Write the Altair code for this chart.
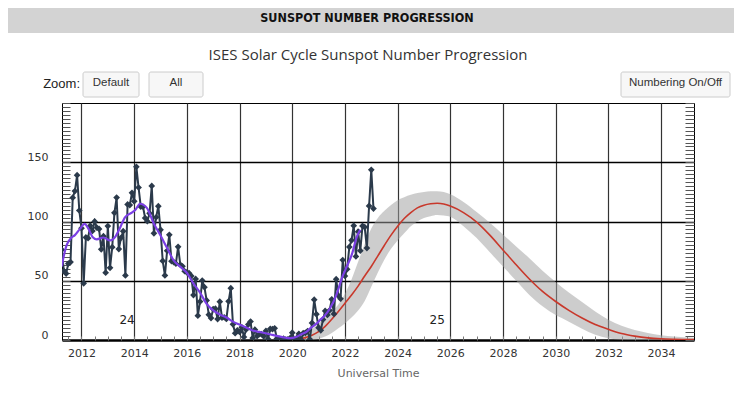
import altair as alt
import pandas as pd

# ---------------- data ----------------
# observed monthly sunspot numbers, April 2011 .. February 2023
obs_2011 = [76.1, 58.2, 56.1, 64.5, 65.8, 120.1, 125.7, 139.1, 109.3]  # Apr-Dec
obs_2012 = [94.4, 47.8, 86.6, 85.9, 96.5, 92.0, 100.1, 94.8, 93.7, 76.5, 87.6, 56.8]
obs_2013 = [96.1, 60.9, 78.3, 107.3, 120.2, 76.7, 86.2, 91.8, 54.5, 114.4, 113.9, 124.2]
obs_2014 = [117.0, 146.1, 128.7, 112.5, 112.5, 102.9, 100.2, 106.9, 130.0, 90.0, 103.6, 112.9]
obs_2015 = [93.0, 66.7, 54.5, 75.3, 88.8, 66.5, 65.8, 64.4, 78.6, 63.6, 62.2, 58.0]
obs_2016 = [57.0, 56.4, 54.1, 37.9, 51.5, 20.5, 32.4, 50.2, 44.6, 33.4, 21.4, 18.5]
obs_2017 = [26.1, 26.4, 17.7, 32.3, 18.9, 19.2, 17.8, 32.6, 43.7, 13.2, 5.7, 8.2]
obs_2018 = [6.8, 10.7, 2.5, 8.9, 13.1, 15.6, 1.6, 8.7, 3.3, 4.9, 4.9, 3.1]
obs_2019 = [7.7, 0.8, 9.4, 9.1, 9.9, 1.2, 0.9, 0.5, 1.1, 0.4, 0.5, 1.5]
obs_2020 = [6.2, 0.2, 1.5, 5.2, 0.2, 5.8, 6.1, 7.5, 0.6, 14.4, 34.0, 21.8]
obs_2021 = [10.4, 8.2, 17.2, 24.5, 21.2, 25.0, 34.3, 22.0, 51.3, 37.4, 34.8, 67.5]
obs_2022 = [54.0, 59.7, 78.5, 84.1, 96.5, 70.5, 91.4, 75.4, 96.3, 95.3, 77.6, 113.1]
obs_2023 = [143.6, 110.9]  # Jan-Feb

# smoothed sunspot number (purple)
smooth_years = [2011.25, 2011.33, 2011.42, 2011.5, 2011.6, 2011.75, 2011.95, 2012.12,
                2012.26, 2012.42, 2012.58, 2012.83, 2013.09, 2013.28, 2013.46, 2013.65,
                2013.91, 2014.05, 2014.22, 2014.48, 2014.73, 2014.98, 2015.24, 2015.49,
                2015.74, 2015.99, 2016.24, 2016.5, 2016.75, 2017.0, 2017.25, 2017.5,
                2017.75, 2018.0, 2018.25, 2018.5, 2018.75, 2019.0, 2019.25, 2019.5,
                2019.75, 2019.92, 2020.17, 2020.36, 2020.55, 2020.68, 2020.93, 2021.06,
                2021.25, 2021.44, 2021.69, 2021.88, 2022.07, 2022.26, 2022.45, 2022.58]
smooth_values = [62, 71, 79, 83, 86, 88.5, 94, 98,
                 94, 87, 85, 86.5, 84, 87, 94.5, 103.5,
                 107.5, 110, 115, 111.5, 99, 89, 78, 67.5,
                 62, 57, 48, 40, 30.5, 25, 21.5, 19,
                 15.5, 13, 10.5, 8, 6.8, 5.7, 4.3, 3,
                 1.9, 1.5, 2.8, 5, 7, 9.8, 14, 17,
                 21, 27, 39, 52, 62, 72, 87, 93]

# predicted cycle 25 (red) with its range (gray band)
pred_years = [2019.9, 2020.25, 2020.5, 2020.75, 2021.0, 2021.25, 2021.5, 2021.75,
              2022.0, 2022.25, 2022.5, 2022.75, 2023.0, 2023.25, 2023.5, 2023.75,
              2024.0, 2024.25, 2024.5, 2024.75, 2025.0, 2025.25, 2025.5, 2025.75,
              2026.0, 2026.5, 2027.0, 2027.5, 2028.0, 2028.5, 2029.0, 2029.5,
              2030.0, 2030.5, 2031.0, 2031.5, 2032.0, 2032.5, 2033.0, 2033.5,
              2034.0, 2034.5, 2035.25]
pred_values = [0.2, 1.0, 2.0, 4.0, 7.0, 11.5, 17.5, 24,
               31, 38, 45.5, 54, 62, 71, 80, 88.5,
               96, 102.5, 107.5, 111.5, 113.8, 115, 115.4, 114.8,
               113, 107.5, 99.5, 88.5, 76, 63.5, 51.5, 41,
               32.5, 25, 18.5, 13, 9, 5.5, 3.3, 1.8,
               1.0, 0.6, 0.3]
pred_high = [0.5, 2.5, 5, 9, 14, 19, 24, 30,
             39, 51, 66, 81, 94, 103, 109, 114,
             118, 120.5, 122.5, 124, 125, 125.5, 125.5, 125,
             123, 116.5, 108, 99, 89, 79, 69, 58.5,
             49, 40, 32, 24, 17, 12, 8.5, 6,
             4, 3, 2]
pred_low = [0, 0, 0, 0, 1, 3, 6, 10,
            14, 19, 25, 33, 45, 57, 68, 77,
            84, 90, 96, 100, 103, 104.5, 105.5, 105,
            104, 96, 86, 74, 62, 50, 38, 28.5,
            21, 15.5, 9.5, 4.5, 1.5, 0.3, 0, 0,
            0, 0, 0]

cycle_labels = ["24", "25"]
cycle_years = [2013.73, 2025.5]
cycle_values = [17, 17]

# axis ticks
y_ticks = [i * 10 / 3 for i in range(61)]
x_major = list(range(2012, 2035, 2))
x_minor = [2011.5 + 0.5 * i for i in range(48)]

header_text = "SUNSPOT NUMBER PROGRESSION"
title_text = "ISES Solar Cycle Sunspot Number Progression"
x_title = "Universal Time"

# ---------------- tables ----------------
obs_rows = []
for yr, vals, m0 in [(2011, obs_2011, 4), (2012, obs_2012, 1), (2013, obs_2013, 1),
                     (2014, obs_2014, 1), (2015, obs_2015, 1), (2016, obs_2016, 1),
                     (2017, obs_2017, 1), (2018, obs_2018, 1), (2019, obs_2019, 1),
                     (2020, obs_2020, 1), (2021, obs_2021, 1), (2022, obs_2022, 1),
                     (2023, obs_2023, 1)]:
    for k, v in enumerate(vals):
        obs_rows.append({"year": yr + (m0 - 1 + k) / 12, "ssn": v})
obs_df = pd.DataFrame(obs_rows)
smooth_df = pd.DataFrame({"year": smooth_years, "ssn": smooth_values})
pred_df = pd.DataFrame({"year": pred_years, "pred": pred_values,
                        "high": pred_high, "low": pred_low})
cyc_df = pd.DataFrame({"year": cycle_years, "ssn": cycle_values, "label": cycle_labels})
one = pd.DataFrame({"k": [0]})

# ---------------- scales & axes ----------------
xs = alt.Scale(domain=[2011.26, 2035.25], nice=False, zero=False)
ys = alt.Scale(domain=[0, 200], nice=False, zero=False)

FONT = "DejaVu Sans"

x_main = alt.Axis(values=x_major, orient="bottom", format="d", domain=True,
                  domainColor="black", domainWidth=2.5, ticks=False, tickSize=0,
                  grid=True, gridColor="#333333", gridWidth=1.2,
                  labelPadding=7, labelFont=FONT, labelFontSize=11, labelColor="#333333",
                  labelFlush=False, labelOverlap=False,
                  title=x_title, titleFont=FONT, titleFontSize=11,
                  titleFontWeight="normal", titleColor="#666666", titlePadding=9)
x_minor_axis = alt.Axis(values=x_minor, orient="bottom", offset=-4, tickSize=4,
                        tickColor="#777777", tickWidth=1, domain=False, labels=False,
                        grid=False, title=None)
y_main = alt.Axis(values=y_ticks, orient="left", offset=-8, tickSize=8,
                  tickColor="#555555", tickWidth=1, domain=False,
                  grid=True, gridColor="black", gridWidth=1.3,
                  gridOpacity={"condition": {"test": "datum.value % 50 === 0 && datum.value > 0 && datum.value < 200",
                                             "value": 1}, "value": 0},
                  labelExpr="(datum.value % 50 === 0 && datum.value < 200) ? datum.label : ''",
                  labelOverlap=False, labelBound=False, labelFlush=False,
                  labelPadding=14, labelOffset=-5, labelFont=FONT, labelFontSize=11,
                  labelColor="#333333", title=None)
y_right = alt.Axis(values=y_ticks, orient="right", offset=-9, tickSize=9,
                   tickColor="#555555", tickWidth=1, domain=False, labels=False,
                   grid=False, title=None)

NAVY = "#2b3a4b"
PURPLE = "#7b3fe4"
RED = "#c8382b"

band = alt.Chart(pred_df).mark_area(color="#a0a0a0", opacity=0.52, interpolate="monotone",
                                    clip=True).encode(
    x=alt.X("year:Q", scale=xs, axis=x_main),
    y=alt.Y("low:Q", scale=ys, axis=y_main),
    y2="high:Q",
)
red = alt.Chart(pred_df).mark_line(color=RED, strokeWidth=1.6, interpolate="monotone",
                                   clip=True).encode(
    x=alt.X("year:Q", scale=xs, axis=x_minor_axis),
    y=alt.Y("pred:Q", scale=ys, axis=y_right),
)
obs_line = alt.Chart(obs_df).mark_line(color=NAVY, strokeWidth=2, clip=True).encode(
    x=alt.X("year:Q", scale=xs, axis=None),
    y=alt.Y("ssn:Q", scale=ys, axis=None),
)
obs_pts = alt.Chart(obs_df).mark_point(shape="diamond", filled=True, size=45, color=NAVY,
                                       opacity=1, clip=True).encode(
    x=alt.X("year:Q", scale=xs, axis=None),
    y=alt.Y("ssn:Q", scale=ys, axis=None),
)
smooth = alt.Chart(smooth_df).mark_line(color=PURPLE, strokeWidth=2.2, interpolate="monotone",
                                        clip=True).encode(
    x=alt.X("year:Q", scale=xs, axis=None),
    y=alt.Y("ssn:Q", scale=ys, axis=None),
)
cycles = alt.Chart(cyc_df).mark_text(font=FONT, fontSize=12, color="#222222").encode(
    x=alt.X("year:Q", scale=xs, axis=None),
    y=alt.Y("ssn:Q", scale=ys, axis=None),
    text="label:N",
)

# ---------------- page decorations (pixel positions relative to plot) ----------------
header_bg = alt.Chart(one).mark_rect(color="#d3d3d3").encode(
    x=alt.value(-54), x2=alt.value(680), y=alt.value(-95), y2=alt.value(-70))
header = alt.Chart(one).mark_text(text=header_text, font="DejaVu Sans Condensed, sans-serif",
                                  fontSize=12.5, fontWeight="bold", color="#111111",
                                  align="center", baseline="middle").encode(
    x=alt.value(305), y=alt.value(-85))
title = alt.Chart(one).mark_text(text=title_text, font="Open Sans", fontSize=15,
                                 color="#333333", align="center", baseline="middle").encode(
    x=alt.value(306), y=alt.value(-48))
zoom_lbl = alt.Chart(one).mark_text(text="Zoom:", font="Liberation Sans", fontSize=13,
                                    color="#222222", align="right", baseline="middle").encode(
    x=alt.value(18), y=alt.value(-19))


def button(label, x0, x1):
    box = alt.Chart(one).mark_rect(fill="#f7f7f7", stroke="#cccccc", strokeWidth=1,
                                   cornerRadius=2).encode(
        x=alt.value(x0), x2=alt.value(x1), y=alt.value(-31), y2=alt.value(-6))
    txt = alt.Chart(one).mark_text(text=label, font="Liberation Sans", fontSize=11.5,
                                   color="#333333", align="center", baseline="middle").encode(
        x=alt.value((x0 + x1) / 2), y=alt.value(-20))
    return box + txt


chart = alt.layer(
    band, red, obs_line, obs_pts, smooth, cycles,
    header_bg, header, title, zoom_lbl,
    button("Default", 21, 77), button("All", 87, 141), button("Numbering On/Off", 559, 668),
).resolve_axis(x="independent", y="independent").properties(
    width=632, height=237,
    padding={"left": 54, "top": 95, "right": 40, "bottom": 42},
    autosize=alt.AutoSizeParams(type="none"),
).configure_view(stroke="black", strokeWidth=1)

chart.save("out.html", embed_options={"renderer": "svg", "actions": False})
